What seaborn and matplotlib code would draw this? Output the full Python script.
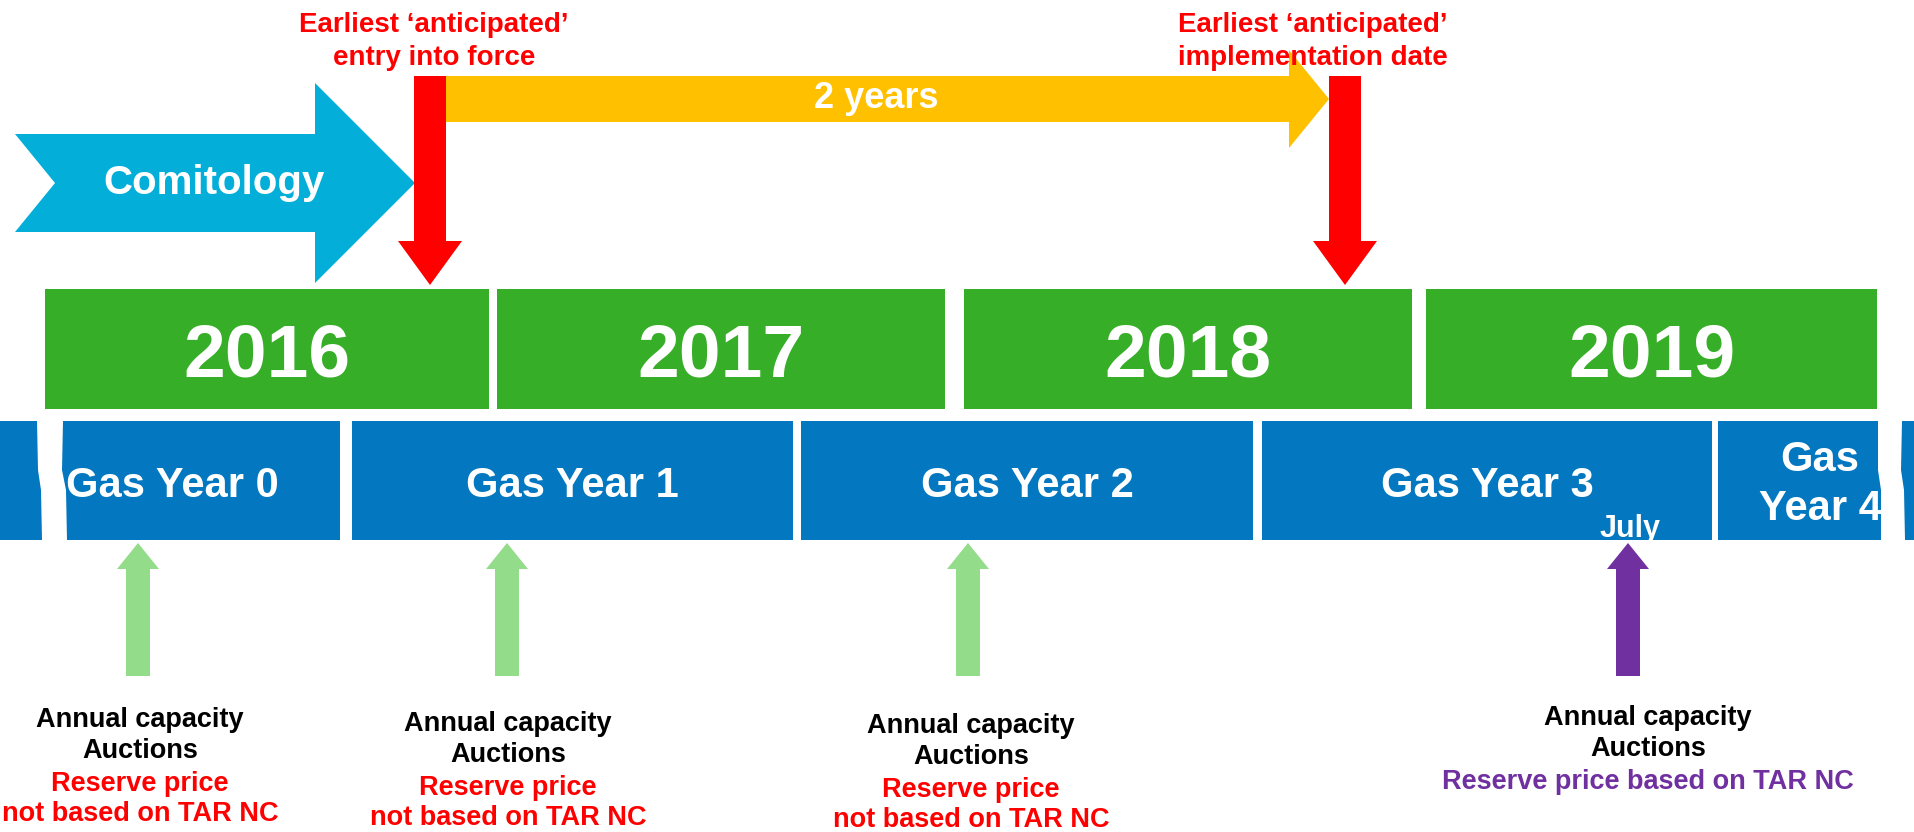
"""TAR NC implementation timeline diagram."""

import matplotlib

matplotlib.use("Agg")

import matplotlib.pyplot as plt
import seaborn as sns
from matplotlib.patches import FancyArrow, Polygon

# calendar years (green row): label, left edge, right edge (diagram units = px)
years = ["2016", "2017", "2018", "2019"]
year_left = [45, 497, 964, 1426]
year_right = [489, 945, 1412, 1877]

# gas years (blue row)
gas_years = ["Gas Year 0", "Gas Year 1", "Gas Year 2", "Gas Year 3", "Gas\nYear 4"]
gas_left = [0, 352, 801, 1262, 1718]
gas_right = [340, 793, 1253, 1712, 1915]

# annual capacity auctions
auction_x = [138, 507, 968, 1628]
auction_based_on_tar = [False, False, False, True]
auction_text_x = [140, 508, 971, 1648]
auction_text_top = [720, 724, 726, 718]

# milestones
milestones = [["Earliest \u2018anticipated\u2019", "entry into force"],
              ["Earliest \u2018anticipated\u2019", "implementation date"]]
milestone_x = [430, 1345]
milestone_text_x = [434, 1313]

GREEN = "#36AE27"
BLUE = "#0377BF"
CYAN = "#03AED9"
YELLOW = "#FFC000"
RED = "#FF0000"
LIGHT_GREEN = "#93DC8A"
PURPLE = "#7030A0"
SMALL = 19.5

sns.set_theme(style="white")
plt.rcParams["font.family"] = ["Liberation Sans", "DejaVu Sans"]
plt.rcParams["font.weight"] = "bold"

fig = plt.figure(figsize=(19.15, 8.32), dpi=100)
ax = fig.add_axes([0, 0, 1, 1])
ax.set_xlim(0, 1915)
ax.set_ylim(832, 0)
ax.axis("off")

# green calendar-year row
ax.barh([349] * len(years), [r - l for l, r in zip(year_left, year_right)],
        left=year_left, height=120, color=GREEN, edgecolor="none")
for lab, l, r in zip(years, year_left, year_right):
    ax.text((l + r) / 2, 357, lab, color="white", fontsize=54, fontweight="bold",
            ha="center", va="center")

# blue gas-year row
ax.barh([480] * len(gas_years), [r - l for l, r in zip(gas_left, gas_right)],
        left=gas_left, height=119, color=BLUE, edgecolor="none")
for i, (lab, l, r) in enumerate(zip(gas_years, gas_left, gas_right)):
    cx = (l + r) / 2
    if i == 0:
        cx = 172
    if i == len(gas_years) - 1:
        top, bottom = lab.split("\n")
        ax.text(1820, 460, top, color="white", fontsize=30, fontweight="bold",
                ha="center", va="center")
        ax.text(1820, 509, bottom, color="white", fontsize=30, fontweight="bold",
                ha="center", va="center")
    else:
        ax.text(cx, 486, lab, color="white", fontsize=30, fontweight="bold",
                ha="center", va="center")
ax.text(1630, 537, "July", color="white", fontsize=22, fontweight="bold",
        ha="center", va="baseline")

# white break marks at both ends of the gas-year row
ax.add_patch(Polygon([(37, 421), (38, 470), (41, 490), (42, 540), (67, 540),
                      (66, 490), (62, 470), (63, 421)], closed=True, color="white", ec="none"))
ax.add_patch(Polygon([(1878, 421), (1878, 470), (1881, 490), (1881, 540), (1905, 540),
                      (1904, 490), (1901, 470), (1902, 421)], closed=True, color="white", ec="none"))

# comitology chevron
ax.add_patch(Polygon([(15, 134), (315, 134), (315, 83), (415, 183), (315, 283),
                      (315, 232), (15, 232), (55, 183)],
                     closed=True, color=CYAN, ec="none"))
ax.text(214, 183, "Comitology", color="white", fontsize=29, fontweight="bold",
        ha="center", va="center")

# two-year span
ax.add_patch(FancyArrow(446, 99, 883, 0, width=46, head_width=98, head_length=40,
                        length_includes_head=True, color=YELLOW, ec="none"))
ax.text(876, 99, "2 years", color="white", fontsize=26, fontweight="bold",
        ha="center", va="center")

# milestone arrows and labels
for mx, tx, lines in zip(milestone_x, milestone_text_x, milestones):
    ax.add_patch(FancyArrow(mx, 76, 0, 209, width=32, head_width=64, head_length=44,
                            length_includes_head=True, color=RED, ec="none"))
    for k, line in enumerate(lines):
        ax.text(tx, 25 + 33 * k, line, color=RED, fontsize=20, fontweight="bold",
                ha="center", va="center")

# auctions
for ax_x, tx, ty, tar in zip(auction_x, auction_text_x, auction_text_top, auction_based_on_tar):
    col = PURPLE if tar else LIGHT_GREEN
    ax.add_patch(FancyArrow(ax_x, 676, 0, -133, width=24, head_width=42, head_length=26,
                            length_includes_head=True, color=col, ec="none"))
    ax.text(tx, ty, "Annual capacity", color="black", fontsize=SMALL, fontweight="bold",
            ha="center", va="center")
    ax.text(tx, ty + 31, "Auctions", color="black", fontsize=SMALL, fontweight="bold",
            ha="center", va="center")
    if tar:
        ax.text(tx, ty + 64, "Reserve price based on TAR NC", color=PURPLE,
                fontsize=SMALL, fontweight="bold", ha="center", va="center")
    else:
        ax.text(tx, ty + 64, "Reserve price", color=RED, fontsize=SMALL,
                fontweight="bold", ha="center", va="center")
        ax.text(tx, ty + 94, "not based on TAR NC", color=RED, fontsize=SMALL,
                fontweight="bold", ha="center", va="center")

fig.savefig("out.png", dpi=100, facecolor="white")
